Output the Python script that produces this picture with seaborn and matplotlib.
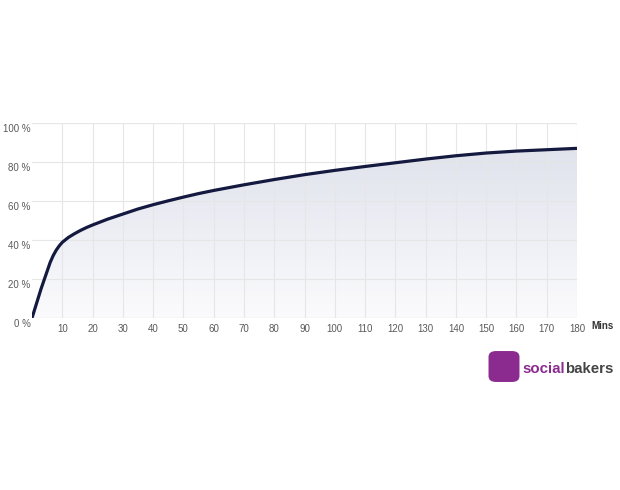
import numpy as np
import pandas as pd
import matplotlib
matplotlib.use('Agg')
import matplotlib.pyplot as plt
import matplotlib.transforms as mtransforms
import seaborn as sns
from matplotlib.colors import LinearSegmentedColormap
from matplotlib.patches import FancyBboxPatch

# Values
minutes = [0, 1, 2, 3, 4, 5, 6, 7, 8, 9, 10, 12, 14, 16, 18, 20, 25, 30, 35, 40,
           45, 50, 55, 60, 70, 80, 90, 100, 110, 120, 130, 140, 150, 160, 170, 180]
share = [0, 5, 10, 15, 19.5, 24, 28.5, 32, 34.8, 37, 38.8, 41.3, 43.2, 44.9, 46.4,
         47.7, 50.7, 53.3, 55.9, 58.1, 60.1, 62, 63.8, 65.4, 68.3, 71, 73.5, 75.7,
         77.7, 79.6, 81.5, 83.2, 84.6, 85.6, 86.3, 87]
x_ticks = list(range(10, 190, 10))
y_ticks = [0, 20, 40, 60, 80, 100]

data = pd.DataFrame({'Minutes': minutes, 'Share': share})

sns.set_style('white')
plt.rcParams['font.family'] = ['Liberation Sans', 'DejaVu Sans']

fig = plt.figure(figsize=(6.2, 4.9), dpi=100)
ax = fig.add_axes([32 / 620, 172 / 490, 545 / 620, 195 / 490])

# gradient fill under the curve
cmap = LinearSegmentedColormap.from_list('fill', ['#fbfbfd', '#dcdfea'])
grad = np.linspace(0, 1, 256).reshape(-1, 1)
im = ax.imshow(grad, extent=[0, 180, 0, 100], origin='lower', aspect='auto',
               cmap=cmap, zorder=1)
poly = ax.fill_between(data['Minutes'], data['Share'], 0, color='none', lw=0)
im.set_clip_path(poly.get_paths()[0], transform=ax.transData)

sns.lineplot(data=data, x='Minutes', y='Share', ax=ax, color='#14193f',
             linewidth=2.3, zorder=3)
for ln in ax.lines:
    ln.set_solid_joinstyle('round')
    ln.set_solid_capstyle('butt')

ax.set_xlim(0, 180)
ax.set_ylim(0, 100)
ax.set_xticks(x_ticks)
ax.set_yticks(y_ticks)
ax.set_yticklabels([f'{v} %' for v in y_ticks])
ax.grid(True, color='#e6e6e6', linewidth=0.8, zorder=2)
ax.set_axisbelow(False)
for s in ax.spines.values():
    s.set_visible(False)
ax.axhline(0, color='#dcdcdc', lw=0.8, zorder=2)
ax.axhline(100, color='#e0e0e0', lw=0.8, zorder=2)
ax.tick_params(axis='both', length=0, labelsize=7, labelcolor='#5a5a5a')
ax.tick_params(axis='x', pad=4)
ax.tick_params(axis='y', pad=1)
ax.set_xlabel('')
ax.set_ylabel('')

# y labels sit a little below their grid lines, as in the reference
shift = mtransforms.ScaledTranslation(0, -5 / 100, fig.dpi_scale_trans)
for lab in ax.get_yticklabels():
    lab.set_transform(lab.get_transform() + shift)

ax.text(591 / 620, 172 / 490 - 8 / 490, 'Mins', transform=fig.transFigure,
        fontsize=7, fontweight='bold', color='#333333', ha='left', va='center')

# socialbakers logo
logo = FancyBboxPatch((491 / 620, 110 / 490), 26 / 620, 27 / 490,
                      boxstyle='round,pad=0.004,rounding_size=0.012',
                      transform=fig.transFigure, facecolor='#8b2b8f',
                      edgecolor='none')
fig.patches.append(logo)
t1 = fig.text(522 / 620, 121 / 490, 'social', color='#8b2b8f', fontsize=10.8,
              fontweight='bold', ha='left', va='center')
fig.canvas.draw()
bb = t1.get_window_extent()
fig.text(bb.x1 / 620, 121 / 490, 'bakers', color='#444444', fontsize=10.8,
         fontweight='bold', ha='left', va='center')

fig.savefig('out.png', dpi=100)
